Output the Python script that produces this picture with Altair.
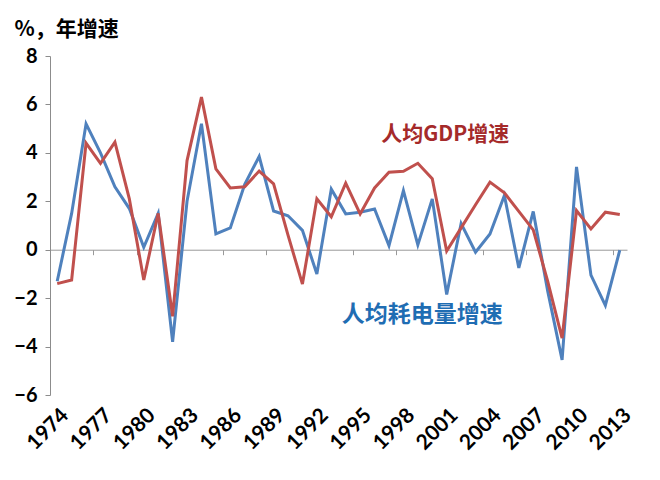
import altair as alt
import pandas as pd

years = list(range(1974, 2014))
elec = [-1.3, 1.5, 5.2, 4.0, 2.6, 1.7, 0.1, 1.5, -3.8, 2.0,
        5.2, 0.65, 0.9, 2.7, 3.85, 1.6, 1.4, 0.8, -1.0, 2.5,
        1.48, 1.55, 1.68, 0.17, 2.44, 0.2, 2.1, -1.85, 1.08, -0.1,
        0.65, 2.24, -0.75, 1.58, -1.7, -4.55, 3.42, -1.05, -2.3, -0.02]
gdp = [-1.4, -1.25, 4.4, 3.57, 4.44, 2.1, -1.25, 1.5, -2.75, 3.68,
       6.3, 3.34, 2.55, 2.6, 3.25, 2.72, 0.6, -1.42, 2.1, 1.36,
       2.75, 1.48, 2.55, 3.2, 3.24, 3.57, 2.93, -0.05, 0.9, 1.86,
       2.79, 2.35, 1.58, 0.82, -1.3, -3.65, 1.62, 0.86, 1.55, 1.45]
tick_label_years = [1974, 1977, 1980, 1983, 1986, 1989, 1992, 1995,
                    1998, 2001, 2004, 2007, 2010, 2013]
boundary_ticks = [1976.5, 1979.5, 1982.5, 1985.5, 1988.5, 1991.5, 1994.5,
                  1997.5, 2000.5, 2003.5, 2006.5, 2009.5, 2012.5]
y_ticks = [-6, -4, -2, 0, 2, 4, 6, 8]
elec_label = ["人均耗电量增速"]
elec_label_year = [1999.3]
elec_label_value = [-2.69]
gdp_label = ["人均GDP增速"]
gdp_label_year = [2000.9]
gdp_label_value = [4.72]
line_colors = ["#4F81BD", "#C0504D"]
text_colors = ["#1F6DB3", "#A52A2A"]

df_e = pd.DataFrame({"year": years, "value": elec})
df_g = pd.DataFrame({"year": years, "value": gdp})
ann_e = pd.DataFrame({"year": elec_label_year, "value": elec_label_value,
                      "label": elec_label})
ann_g = pd.DataFrame({"year": gdp_label_year, "value": gdp_label_value,
                      "label": gdp_label})

xscale = alt.Scale(domain=[1973.5, 2013.5], nice=False, zero=False)
yscale = alt.Scale(domain=[-6, 8], nice=False, zero=False)
plot_h = 339
zero_offset = -(plot_h - plot_h * 8 / 14)

yaxis = alt.Axis(values=y_ticks, grid=False, domainColor="#8c8c8c",
                 tickColor="#8c8c8c", tickSize=5, labelFont="Lato",
                 labelFontWeight="bold", labelFontSize=20, labelColor="black",
                 labelPadding=8, title="%，年增速", titleAngle=0,
                 titleAlign="left", titleBaseline="alphabetic", titleX=-36,
                 titleY=-21, titleFont="Noto Sans CJK SC", titleFontSize=21,
                 titleFontWeight="bold", titleColor="black")

y_enc = alt.Y("value:Q", scale=yscale, axis=yaxis)

blue = alt.Chart(df_e).mark_line(strokeWidth=3, color=line_colors[0]).encode(
    x=alt.X("year:Q", scale=xscale,
            axis=alt.Axis(orient="bottom", offset=zero_offset,
                          values=boundary_ticks, labels=False, grid=False,
                          domainColor="#999999", tickColor="#999999",
                          tickSize=5, title=None)),
    y=y_enc,
)

red = alt.Chart(df_g).mark_line(strokeWidth=3, color=line_colors[1]).encode(
    x=alt.X("year:Q", scale=xscale, axis=None),
    y=y_enc,
)

text_g = alt.Chart(ann_g).mark_text(font="Noto Sans CJK SC", fontSize=21,
                                    fontWeight="bold",
                                    color=text_colors[1]).encode(
    x=alt.X("year:Q", scale=xscale,
            axis=alt.Axis(orient="bottom", values=tick_label_years,
                          format="d", domain=False, ticks=False, grid=False,
                          labelAngle=-45, labelFont="Lato",
                          labelFontWeight="bold", labelFontSize=21,
                          labelColor="black", labelPadding=9, title=None,
                          labelOverlap=False)),
    y=y_enc,
    text="label:N",
)

text_e = alt.Chart(ann_e).mark_text(font="Noto Sans CJK SC", fontSize=23,
                                    fontWeight="bold",
                                    color=text_colors[0]).encode(
    x=alt.X("year:Q", scale=xscale, axis=None),
    y=y_enc,
    text="label:N",
)

chart = alt.layer(blue, red, text_g, text_e).resolve_axis(
    x="independent").properties(
    width=577, height=plot_h,
    padding={"left": 42, "top": 48, "right": 15, "bottom": 60},
    autosize="none",
).configure_view(stroke=None)

chart.save("out.html", embed_options={"renderer": "svg", "actions": False})
